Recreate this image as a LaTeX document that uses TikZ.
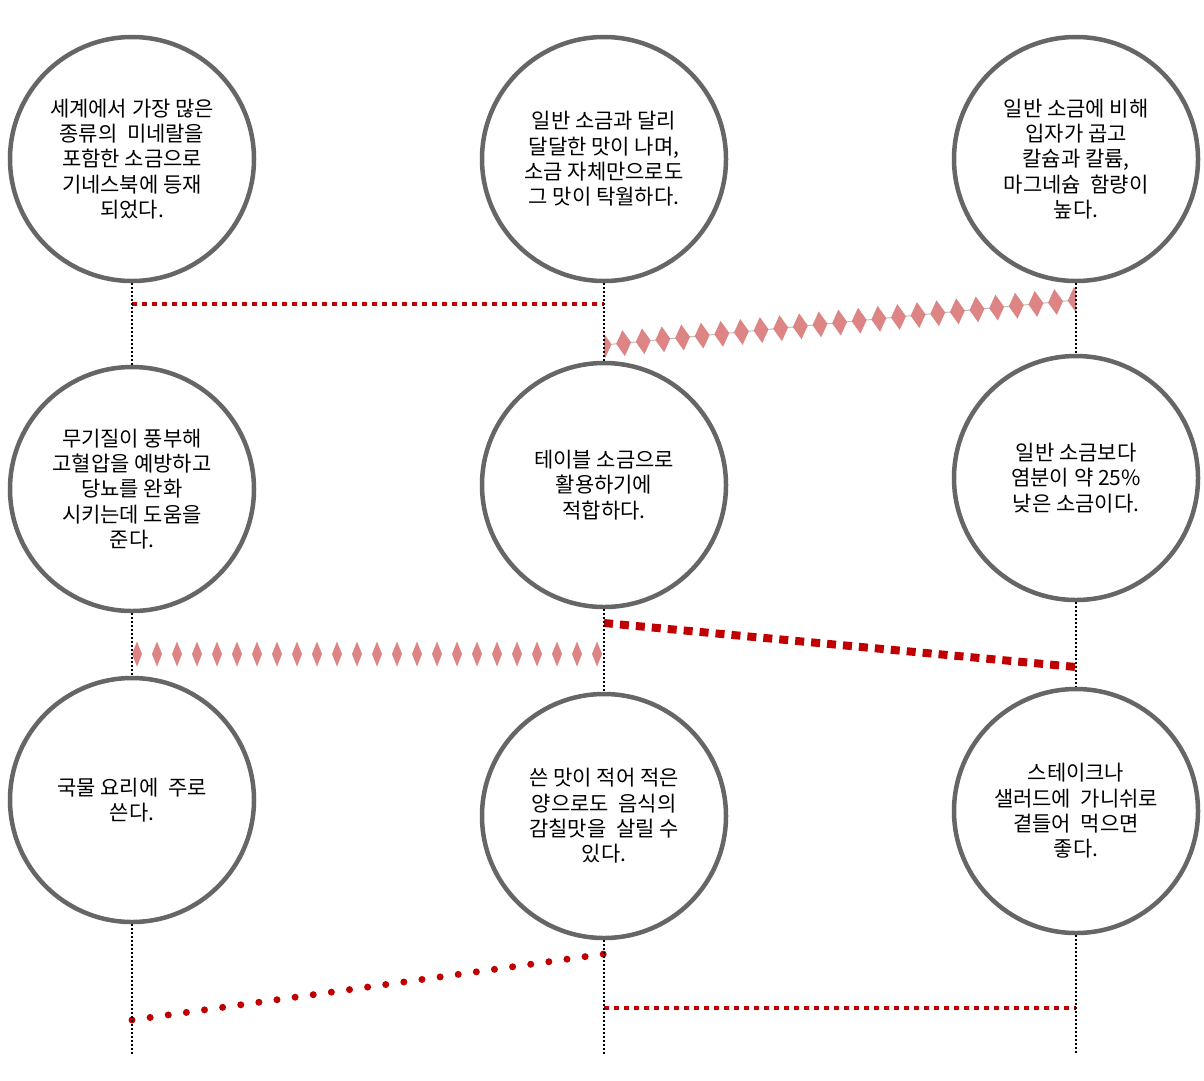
\documentclass[tikz,border=0pt]{standalone}
\usepackage{fontspec}
\setmainfont{Noto Sans CJK KR}
\usetikzlibrary{decorations.markings}
\definecolor{ringgray}{RGB}{102,102,102}
\definecolor{darkred}{RGB}{192,0,0}
\definecolor{pinkred}{RGB}{221,132,132}
\definecolor{thingray}{RGB}{190,190,190}
\begin{document}
\begin{tikzpicture}[x=1pt,y=-1pt,
 bubble/.style={circle,draw=ringgray,line width=4.5pt,fill=white,minimum size=244pt,inner sep=0pt,align=center,font=\fontsize{21}{25.3}\selectfont},
 vline/.style={black,line width=1.6pt,dash pattern=on 2pt off 2pt},
 sqdots/.style={darkred,line width=4.5pt,dash pattern=on 4.5pt off 5.5pt},
 sqdash/.style={darkred,line width=8pt,dash pattern=on 9pt off 7pt},
 rounddots/.style={darkred,line width=7pt,line cap=round,dash pattern=on 0pt off 18.3pt},
 diamrow/.style={decoration={markings,mark=between positions 5pt and -5pt step 20pt with {\fill[pinkred] (-5,0)--(0,12.5)--(5,0)--(0,-12.5)--cycle;}},postaction={decorate}},
 diamslope/.style={thingray,line width=1pt,decoration={markings,mark=between positions 0 and 1 step 0.0416 with {\fill[pinkred] (-7.5,0)--(0,13)--(7.5,0)--(0,-13)--cycle;}},postaction={decorate}}
]
\useasboundingbox (0,0) rectangle (1204,1080);
\fill[white] (0,0) rectangle (1204,1080);

% connector end points on the column lines
\coordinate (p1s) at (132,304); \coordinate (p1e) at (604,304);
\coordinate (p2s) at (604,345); \coordinate (p2e) at (1076,300);
\coordinate (p3s) at (132,654); \coordinate (p3e) at (604,654);
\coordinate (p4s) at (604,623); \coordinate (p4e) at (1076,667);
\coordinate (p5s) at (132,1020); \coordinate (p5e) at (604,954);
\coordinate (p6s) at (604,1008); \coordinate (p6e) at (1076,1008);
\coordinate (aend) at (132,1055);
\coordinate (bend) at (604,1055);
\coordinate (cend) at (1076,1055);

% red connectors
\draw[sqdots] (p1s) -- (p1e);
\begin{scope}
\clip (604,0) rectangle (1076,1080);
\draw[diamslope] (p2s) -- (p2e);
\end{scope}
\path[diamrow] (p3s) -- (p3e);
\draw[sqdash] (p4s) -- (p4e);
\draw[rounddots] (p5s) -- (p5e);
\draw[sqdots] (p6s) -- (p6e);

% circles
\node[bubble] (a1) at (132,159) {세계에서 가장 많은\\종류의\ \ 미네랄을\\포함한 소금으로\\기네스북에 등재\\되었다.};
\node[bubble] (b1) at (604,159) {일반 소금과 달리\\달달한 맛이 나며,\\소금 자체만으로도\\그 맛이 탁월하다.};
\node[bubble] (c1) at (1076,159) {일반 소금에 비해\\입자가 곱고\\칼슘과 칼륨,\\마그네슘\ \ 함량이\\높다.};
\node[bubble] (a2) at (132,489) {무기질이 풍부해\\고혈압을 예방하고\\당뇨를 완화\\시키는데 도움을\\준다.};
\node[bubble] (b2) at (604,485) {테이블 소금으로\\활용하기에\\적합하다.};
\node[bubble] (c2) at (1076,478) {일반 소금보다\\염분이 약 25\%\\낮은 소금이다.};
\node[bubble] (a3) at (132,800) {국물 요리에\ \ 주로\\쓴다.};
\node[bubble] (b3) at (604,816) {쓴 맛이 적어 적은\\양으로도\ \ 음식의\\감칠맛을\ \ 살릴 수\\있다.};
\node[bubble] (c3) at (1076,811) {스테이크나\\샐러드에\ \ 가니쉬로\\곁들어\ \ 먹으면\\좋다.};

% vertical dotted column lines
\draw[vline] (a1.south) -- (a2.north);
\draw[vline] (a2.south) -- (a3.north);
\draw[vline] (a3.south) -- (aend);
\draw[vline] (b1.south) -- (b2.north);
\draw[vline] (b2.south) -- (b3.north);
\draw[vline] (b3.south) -- (bend);
\draw[vline] (c1.south) -- (c2.north);
\draw[vline] (c2.south) -- (c3.north);
\draw[vline] (c3.south) -- (cend);
\end{tikzpicture}
\end{document}
